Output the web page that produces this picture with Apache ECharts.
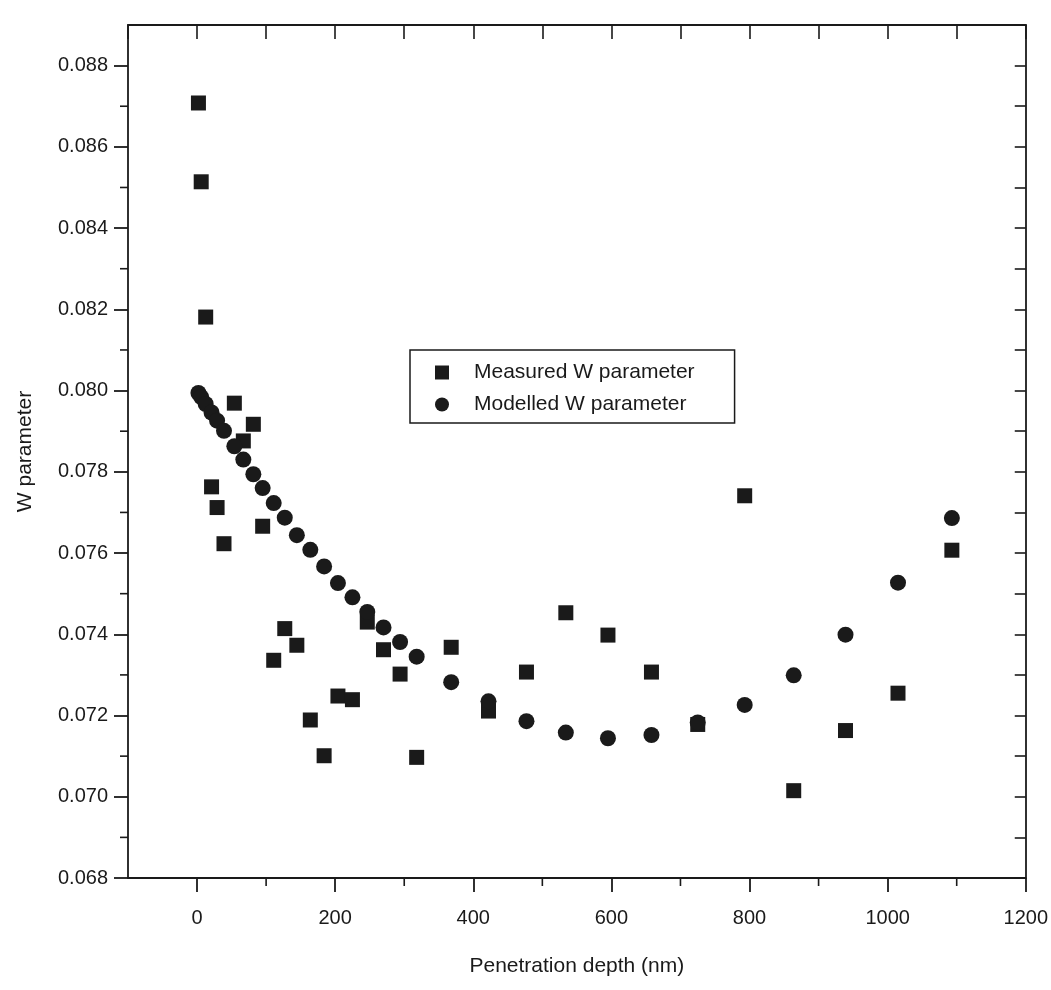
<!DOCTYPE html>
<html>
<head>
<meta charset="utf-8">
<script src="https://cdn.jsdelivr.net/npm/echarts@6/dist/echarts.min.js"></script>
<style>
html,body{margin:0;padding:0;background:#fff;}
#chart{width:1051px;height:990px;}
</style>
</head>
<body>
<div id="chart"></div>
<script>
// Penetration depth (nm), shared by both series
const depthNm = [2, 6, 12.5, 21, 29, 39, 54, 67, 81.5, 95, 111, 127, 144.5, 164, 184, 204, 225, 246.5, 270, 294, 318, 368, 422, 477, 534, 595, 658, 725, 793, 864, 939, 1015, 1093];
// Measured W parameter
const measuredW = [0.08708, 0.08514, 0.08181, 0.07763, 0.07712, 0.07623, 0.07969, 0.07876, 0.07917, 0.07666, 0.07336, 0.07414, 0.07373, 0.07189, 0.07101, 0.07248, 0.07239, 0.07430, 0.07362, 0.07302, 0.07097, 0.07368, 0.07211, 0.07307, 0.07453, 0.07398, 0.07307, 0.07178, 0.07741, 0.07015, 0.07163, 0.07255, 0.07607];
// Modelled W parameter
const modelledW = [0.07994, 0.07984, 0.07967, 0.07946, 0.07926, 0.07901, 0.07863, 0.07830, 0.07794, 0.07760, 0.07723, 0.07687, 0.07644, 0.07608, 0.07567, 0.07526, 0.07491, 0.07455, 0.07417, 0.07381, 0.07345, 0.07282, 0.07235, 0.07186, 0.07158, 0.07144, 0.07152, 0.07183, 0.07226, 0.07299, 0.07399, 0.07527, 0.07686];

const seriesNames = ['Measured W parameter', 'Modelled W parameter'];
const xTitle = 'Penetration depth (nm)';
const yTitle = 'W parameter';

const xMajorTicks = [0, 200, 400, 600, 800, 1000, 1200];
const xMinorTicks = [100, 300, 500, 700, 900, 1100];
const yMajorTicks = [0.068, 0.070, 0.072, 0.074, 0.076, 0.078, 0.080, 0.082, 0.084, 0.086, 0.088];
const yMinorTicks = [0.069, 0.071, 0.073, 0.075, 0.077, 0.079, 0.081, 0.083, 0.085, 0.087];

const X_MIN = -100, X_MAX = 1200, Y_MIN = 0.068, Y_MAX = 0.089;
const INK = '#1a1a1a';
const FONT = '"Liberation Sans", Arial, sans-serif';

const measuredData = depthNm.map((d, i) => [d, measuredW[i]]);
const modelledData = depthNm.map((d, i) => [d, modelledW[i]]);

const chart = echarts.init(document.getElementById('chart'), null, {renderer: 'canvas'});

const option = {
  backgroundColor: '#ffffff',
  animation: false,
  grid: {left: 128, right: 24, top: 25, bottom: 112, containLabel: false},
  legend: {
    data: seriesNames,
    orient: 'vertical',
    left: 410,
    top: 350,
    padding: [12, 40, 8, 25],
    itemGap: 11,
    itemWidth: 14,
    itemHeight: 14,
    borderColor: INK,
    borderWidth: 1.5,
    backgroundColor: '#fff',
    itemStyle: {opacity: 1},
    textStyle: {fontFamily: FONT, fontSize: 21, color: INK, padding: [0, 0, 0, 20]}
  },
  xAxis: [
    {
      type: 'value', position: 'bottom', min: X_MIN, max: X_MAX, interval: 100,
      splitLine: {show: false},
      axisLine: {show: true, onZero: false, lineStyle: {color: INK, width: 1.8}},
      axisTick: {show: true, customValues: xMajorTicks, length: 14, lineStyle: {color: INK, width: 1.8}},
      axisLabel: {
        show: true, customValues: xMajorTicks, margin: 30,
        fontFamily: FONT, fontSize: 20, color: INK,
        formatter: v => (Math.round(v) % 200 === 0 && v >= 0 ? String(Math.round(v)) : '')
      },
      name: xTitle, nameLocation: 'middle', nameGap: 78,
      nameTextStyle: {fontFamily: FONT, fontSize: 21, color: INK}
    },
    {
      type: 'value', position: 'top', min: X_MIN, max: X_MAX, interval: 100,
      splitLine: {show: false},
      axisLine: {show: true, onZero: false, lineStyle: {color: INK, width: 1.8}},
      axisTick: {show: true, inside: true, length: 14, lineStyle: {color: INK, width: 1.6}},
      axisLabel: {show: false}
    }
  ],
  yAxis: [
    {
      type: 'value', position: 'left', min: Y_MIN, max: Y_MAX, interval: 0.002,
      splitLine: {show: false},
      axisLine: {show: true, onZero: false, lineStyle: {color: INK, width: 1.8}},
      axisTick: {show: true, customValues: yMajorTicks, length: 14, lineStyle: {color: INK, width: 1.8}},
      axisLabel: {
        show: true, customValues: yMajorTicks, margin: 20,
        fontFamily: FONT, fontSize: 20, color: INK,
        formatter: v => (v <= 0.0885 ? v.toFixed(3) : '')
      },
      name: yTitle, nameLocation: 'middle', nameGap: 92, nameRotate: 90,
      nameTextStyle: {fontFamily: FONT, fontSize: 21, color: INK}
    },
    {
      type: 'value', position: 'right', min: Y_MIN, max: Y_MAX, interval: 0.001,
      splitLine: {show: false},
      axisLine: {show: true, onZero: false, lineStyle: {color: INK, width: 1.8}},
      axisTick: {show: true, inside: true, length: 11, lineStyle: {color: INK, width: 1.6}},
      axisLabel: {show: false}
    }
  ],
  series: [
    {
      name: seriesNames[0], type: 'scatter', xAxisIndex: 0, yAxisIndex: 0,
      symbol: 'rect', symbolSize: 15,
      itemStyle: {color: INK, opacity: 1},
      data: measuredData, z: 3
    },
    {
      name: seriesNames[1], type: 'scatter', xAxisIndex: 0, yAxisIndex: 0,
      symbol: 'circle', symbolSize: 16,
      itemStyle: {color: INK, opacity: 1},
      data: modelledData, z: 4
    },
    {
      name: 'xMinorTicks', type: 'custom', xAxisIndex: 0, yAxisIndex: 0, silent: true, clip: false,
      data: xMinorTicks.map(v => [v, Y_MIN]),
      renderItem: (params, api) => {
        const p = api.coord([api.value(0), Y_MIN]);
        return {type: 'line', shape: {x1: p[0], y1: p[1], x2: p[0], y2: p[1] + 8}, style: {stroke: INK, lineWidth: 1.6}};
      }
    },
    {
      name: 'yMinorTicks', type: 'custom', xAxisIndex: 0, yAxisIndex: 0, silent: true, clip: false,
      data: yMinorTicks.map(v => [X_MIN, v]),
      renderItem: (params, api) => {
        const p = api.coord([X_MIN, api.value(1)]);
        return {type: 'line', shape: {x1: p[0] - 8, y1: p[1], x2: p[0], y2: p[1]}, style: {stroke: INK, lineWidth: 1.6}};
      }
    }
  ]
};
chart.setOption(option);
</script>
</body>
</html>
